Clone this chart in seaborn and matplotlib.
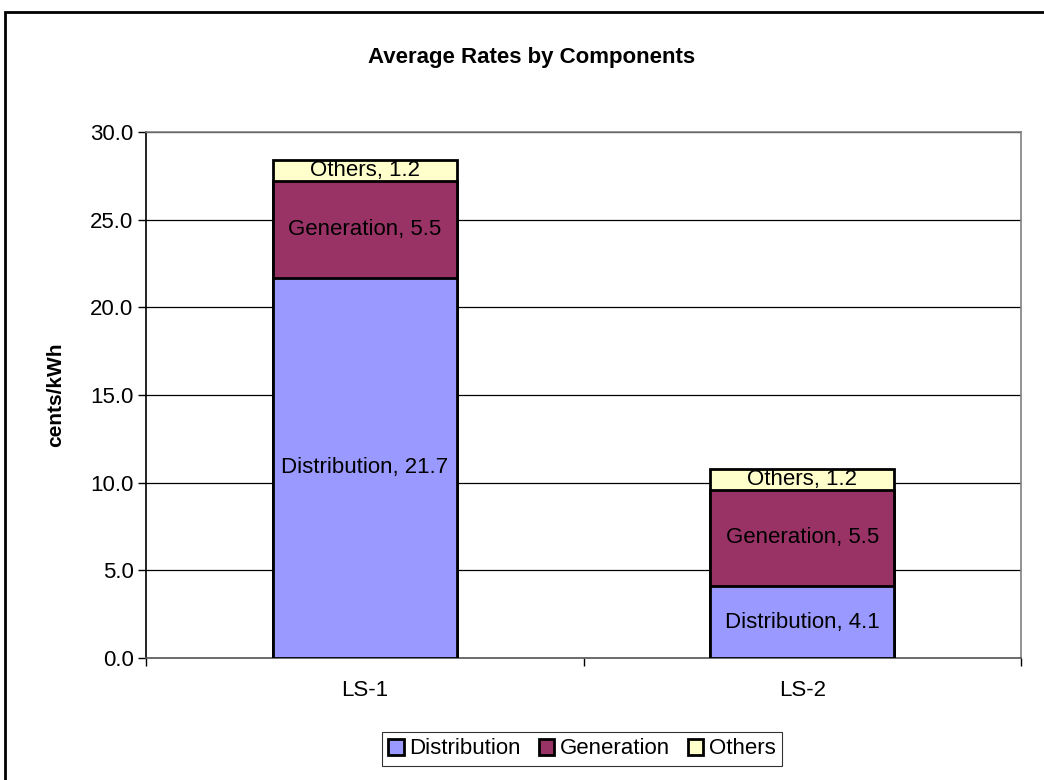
import matplotlib
matplotlib.use("Agg")
import matplotlib.pyplot as plt
from matplotlib.patches import Rectangle, Patch
from matplotlib.ticker import FixedLocator
import numpy as np
import pandas as pd
import seaborn as sns

# Rate classes and component values (cents/kWh)
classes = ["LS-1", "LS-2"]
components = ["Distribution", "Generation", "Others"]
distribution = [21.7, 4.1]
generation = [5.5, 5.5]
others = [1.2, 1.2]
colors = {"Distribution": "#9999FF", "Generation": "#993366", "Others": "#FFFFCC"}
y_ticks = [0, 5, 10, 15, 20, 25, 30]

sns.set_theme(style="white")
plt.rcParams["font.family"] = ["Liberation Sans", "DejaVu Sans"]
plt.rcParams["text.color"] = "black"
plt.rcParams["axes.labelcolor"] = "black"
plt.rcParams["xtick.color"] = "black"
plt.rcParams["ytick.color"] = "black"

values = {"Distribution": distribution, "Generation": generation, "Others": others}
df = pd.DataFrame(values, index=classes)
cum = df.cumsum(axis=1)

fig = plt.figure(figsize=(10.44, 7.8), dpi=100)
ax = fig.add_axes([146 / 1044, 1 - 658 / 780, (1021 - 146) / 1044, (658 - 132) / 780])

# Stacked bars: draw cumulative totals from the top layer down
for comp in reversed(components):
    d = pd.DataFrame({"cls": classes, "val": cum[comp].values})
    sns.barplot(data=d, x="cls", y="val", color=colors[comp], width=0.42,
                edgecolor="black", linewidth=2, saturation=1, ax=ax, zorder=3)

# Segment labels
for i, cls in enumerate(classes):
    base = 0.0
    for comp in components:
        v = df.loc[cls, comp]
        ax.text(i, base + v / 2, f"{comp}, {v}", ha="center", va="center",
                fontsize=16, color="black", zorder=5)
        base += v

ax.set_ylim(0, 30)
ax.set_xlim(-0.5, 1.5)
ax.set_yticks(y_ticks)
ax.set_yticklabels([f"{t:.1f}" for t in y_ticks], fontsize=16)
ax.tick_params(axis="y", which="major", length=6, width=1, color="black",
               direction="out", left=True, pad=3)
ax.tick_params(axis="x", which="major", length=0, labelsize=16, pad=16)
ax.xaxis.set_minor_locator(FixedLocator([-0.5, 0.5, 1.5]))
ax.tick_params(axis="x", which="minor", length=6, width=1, color="black",
               direction="out", bottom=True)
ax.set_xlabel("")
ax.set_ylabel("cents/kWh", fontsize=15, fontweight="bold", labelpad=18)

ax.yaxis.grid(True, color="black", linewidth=0.9, zorder=0)
ax.set_axisbelow(True)
ax.spines["left"].set_color("black")
ax.spines["left"].set_linewidth(1.2)
ax.spines["bottom"].set_color("#555555")
ax.spines["bottom"].set_linewidth(1.2)
ax.spines["top"].set_color("#808080")
ax.spines["right"].set_color("#808080")
ax.spines["top"].set_linewidth(1.2)
ax.spines["right"].set_linewidth(1.2)

fig.text(532 / 1044, 1 - 58 / 780, "Average Rates by Components",
         ha="center", va="center", fontsize=16, fontweight="bold")

handles = [Patch(facecolor=colors[c], edgecolor="black", linewidth=2) for c in components]
leg = fig.legend(handles, components, loc="center", bbox_to_anchor=(582 / 1044, 1 - 749 / 780),
                 ncol=3, frameon=True, fontsize=16, handlelength=0.7, handleheight=0.7,
                 handletextpad=0.25, columnspacing=0.8, borderpad=0.3, fancybox=False)
leg.get_frame().set_edgecolor("black")
leg.get_frame().set_linewidth(0.8)

# Outer chart border
fig.patches.append(Rectangle((5 / 1044, -0.1), 1.2, 1 - 12 / 780 + 0.1, transform=fig.transFigure,
                             fill=False, edgecolor="black", linewidth=2))

fig.savefig("out.png", dpi=100)
